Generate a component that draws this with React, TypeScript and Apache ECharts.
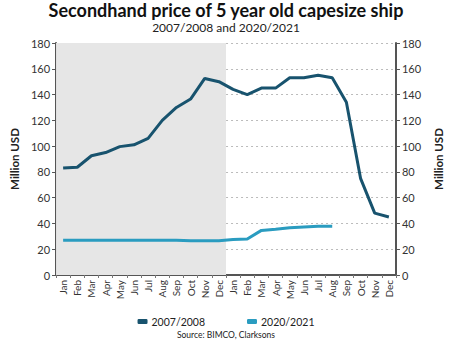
import React, { useEffect, useRef } from "react";
import * as echarts from "echarts";

const months = ["Jan","Feb","Mar","Apr","May","Jun","Jul","Aug","Sep","Oct","Nov","Dec"];
const categories = [...months, ...months].map((m, i) => `${i}`);
const tickLabels = [...months, ...months];
const series0708 = [83, 83.6, 92.5, 95, 99.6, 101, 106, 120, 130, 136.5, 152.5, 150, 144, 140, 145, 145, 153, 153, 155, 153, 134, 75, 48, 45];
const series2021 = [27, 27, 27, 27, 27, 27, 27, 27, 27, 26.6, 26.6, 26.6, 27.5, 28, 34.6, 35.5, 36.7, 37.3, 37.8, 37.8, null, null, null, null];
const yTicks = { min: 0, max: 180, interval: 20 };

const FONT = "Lato, 'Open Sans', sans-serif";

export default function App() {
  const ref = useRef<HTMLDivElement>(null);
  useEffect(() => {
    const chart = echarts.init(ref.current!, undefined, { renderer: "svg" });
    const yAxisBase = {
      type: "value" as const,
      min: yTicks.min,
      max: yTicks.max,
      interval: yTicks.interval,
      name: "Million USD",
      nameLocation: "middle" as const,
      nameTextStyle: { fontFamily: FONT, fontSize: 11.5, fontWeight: "bold" as const, color: "#222" },
      axisLine: { show: true, lineStyle: { color: "#555", width: 2 } },
      axisTick: { show: true, length: 4, lineStyle: { color: "#555" } },
      axisLabel: { fontFamily: FONT, fontSize: 11, color: "#333", margin: 6 },
    };
    chart.setOption({
      animation: false,
      textStyle: { fontFamily: FONT },
      title: [
        {
          text: "Secondhand price of 5 year old capesize ship",
          left: "center",
          top: 1,
          padding: 0,
          textStyle: { fontFamily: FONT, fontSize: 18, fontWeight: "bold", color: "#111", lineHeight: 18 },
        },
        {
          text: "2007/2008 and 2020/2021",
          left: "center",
          top: 21,
          padding: 0,
          textStyle: { fontFamily: FONT, fontSize: 12, fontWeight: "normal", color: "#222", lineHeight: 12 },
        },
        {
          text: "Source: BIMCO, Clarksons",
          left: "center",
          top: 330,
          padding: 0,
          textStyle: { fontFamily: FONT, fontSize: 8.5, fontWeight: "normal", color: "#222", lineHeight: 10 },
        },
      ],
      legend: {
        data: ["2007/2008", "2020/2021"],
        top: 316,
        left: "center",
        padding: 0,
        icon: "roundRect",
        itemWidth: 10,
        itemHeight: 5,
        itemGap: 42,
        textStyle: { fontFamily: FONT, fontSize: 10.5, color: "#222", padding: [0, 0, 0, -1] },
      },
      grid: { left: 35, right: 37, top: 43, bottom: 66, containLabel: false },
      xAxis: [
        {
          type: "category",
          data: categories,
          boundaryGap: true,
          axisLine: { show: true, lineStyle: { color: "#555", width: 2 } },
          axisTick: { show: true, length: 3, lineStyle: { color: "#777" } },
          axisLabel: {
            rotate: 90,
            interval: 0,
            fontFamily: FONT,
            fontSize: 10,
            color: "#333",
            margin: 5,
            formatter: (v: string) => tickLabels[Number(v)],
          },
        },
        { type: "value", min: 0, max: 24, show: false },
      ],
      yAxis: [
        {
          ...yAxisBase,
          position: "left",
          nameGap: 22,
          splitLine: { show: true, lineStyle: { color: "#bbb", type: [2, 3], width: 1 } },
        },
        {
          ...yAxisBase,
          position: "right",
          nameGap: 24,
          nameRotate: 90,
          splitLine: { show: false },
        },
      ],
      series: [
        {
          name: "shade",
          type: "line",
          xAxisIndex: 1,
          yAxisIndex: 0,
          data: [[0, 0]],
          showSymbol: false,
          symbol: "none",
          lineStyle: { opacity: 0 },
          silent: true,
          z: 0,
          markArea: {
            silent: true,
            itemStyle: { color: "#e6e6e6" },
            data: [[{ xAxis: 0 }, { xAxis: 12 }]],
          },
        },
        {
          name: "2007/2008",
          type: "line",
          data: series0708,
          symbol: "none",
          color: "#18536e",
          lineStyle: { width: 3, color: "#18536e" },
          z: 3,
        },
        {
          name: "2020/2021",
          type: "line",
          data: series2021,
          symbol: "none",
          color: "#2a9cc0",
          lineStyle: { width: 3, color: "#2a9cc0" },
          z: 3,
        },
      ],
    });
    return () => chart.dispose();
  }, []);
  return <div ref={ref} style={{ width: 452, height: 341, position: "absolute", left: 0, top: 0 }} />;
}
